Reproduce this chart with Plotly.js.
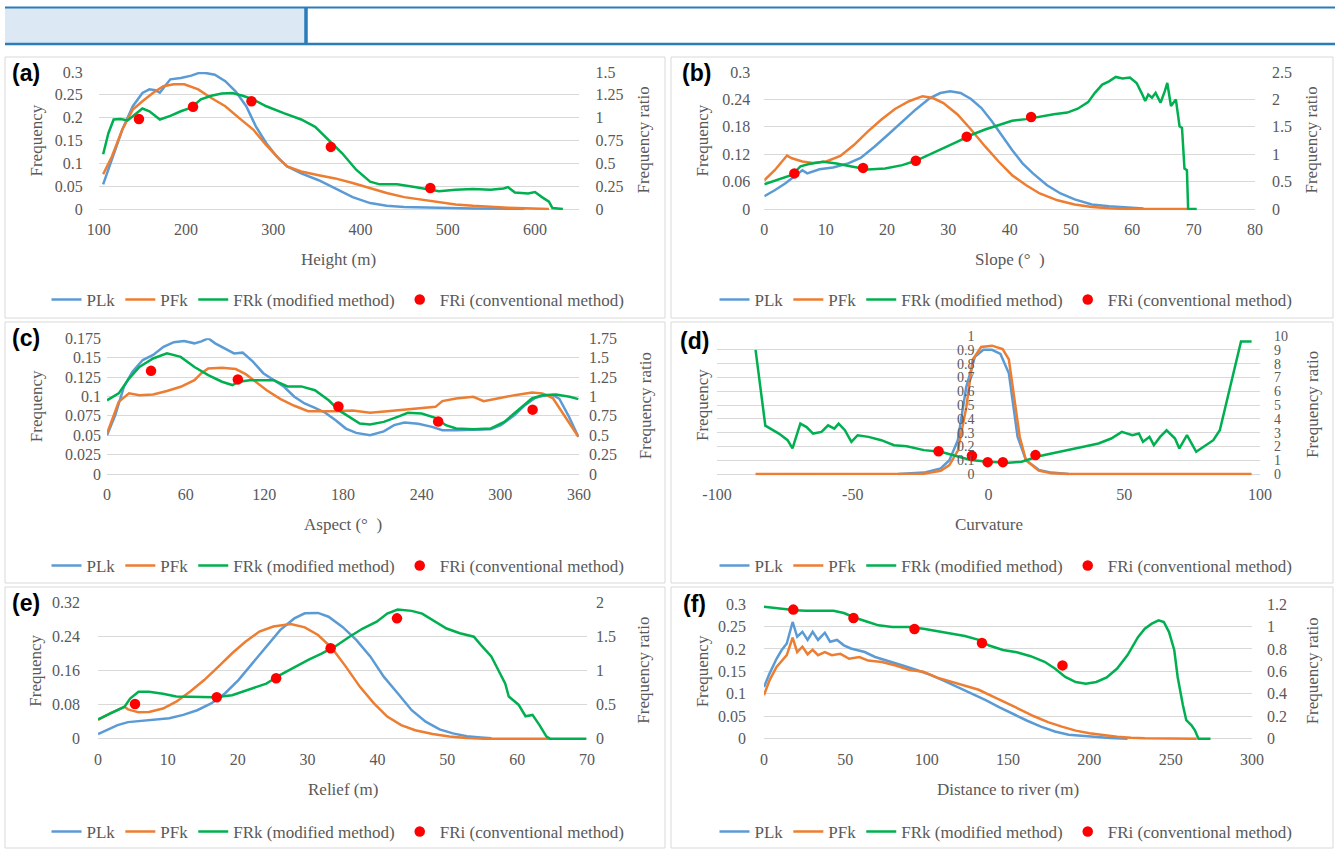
<!DOCTYPE html>
<html><head><meta charset="utf-8">
<script src="https://cdn.plot.ly/plotly-3.0.1.min.js"></script>
<style>html,body{margin:0;padding:0;background:#fff;}#chart{width:1335px;height:850px;}</style>
</head><body><div id="chart"></div>
<script>
// ---------------- DATA ----------------
const seriesNames = ['PLk','PFk','FRk (modified method)','FRi (conventional method)'];

// (a) Height
const aPLkX = [105,115,127,139,150,158,165,170,182,194,206,215,222,233,245,257,269,280,292,304,316,332,352,371,391,411,430,450,490,529,569,588];
const aPLkY = [0.054,0.107,0.174,0.225,0.254,0.262,0.260,0.255,0.284,0.287,0.292,0.298,0.298,0.294,0.280,0.257,0.225,0.181,0.144,0.115,0.093,0.078,0.063,0.045,0.026,0.013,0.007,0.0045,0.002,0.001,0.0005,0];
const aPFkX = [105,115,127,139,150,162,174,186,198,214,229,245,261,277,292,308,316,332,352,371,391,411,430,450,470,490,509,529,549,569,588,616];
const aPFkY = [0.076,0.115,0.174,0.218,0.236,0.254,0.269,0.273,0.273,0.262,0.243,0.225,0.199,0.174,0.140,0.107,0.093,0.082,0.074,0.067,0.057,0.045,0.035,0.026,0.021,0.015,0.010,0.007,0.0045,0.003,0.0015,0];
const aFRkX = [105,111,117,125,133,141,150,158,170,182,194,206,217,229,241,253,265,277,292,312,332,348,363,379,395,411,422,442,462,482,490,509,529,549,564,569,577,592,600,608,616,620,632];
const aFRkY = [0.60,0.83,0.98,0.985,0.97,1.03,1.10,1.07,0.98,1.02,1.07,1.11,1.20,1.24,1.265,1.27,1.24,1.20,1.125,1.05,0.98,0.90,0.76,0.61,0.43,0.30,0.27,0.27,0.24,0.21,0.195,0.21,0.22,0.21,0.225,0.24,0.18,0.17,0.185,0.13,0.08,0.01,0];
const aFRiX = [146,208,275,366,480];
const aFRiY = [0.985,1.12,1.18,0.68,0.23];

// (b) Slope
const bPLkX = [0,1.7,3.4,5.1,6.2,7.0,9.0,11.2,13.5,15.7,18.0,20.2,22.5,24.7,27.0,28.7,30.3,32.0,33.7,35.4,37.1,38.8,40.4,42.1,43.8,46.1,48.3,50.6,53.4,56.2,59.0,61.8];
const bPLkY = [0.028,0.041,0.056,0.074,0.085,0.078,0.087,0.091,0.099,0.112,0.137,0.163,0.192,0.218,0.243,0.254,0.258,0.254,0.241,0.221,0.192,0.159,0.129,0.100,0.078,0.052,0.034,0.021,0.010,0.006,0.003,0.001];
const bPFkX = [0,1.7,3.7,4.5,6.2,7.9,10.1,12.4,14.6,16.9,19.1,21.3,23.6,25.8,27.5,29.2,31.5,33.7,36.0,38.2,40.4,42.7,44.9,47.8,50.6,53.4,56.2,59,69];
const bPFkY = [0.063,0.085,0.117,0.111,0.104,0.101,0.104,0.116,0.140,0.170,0.196,0.219,0.236,0.247,0.243,0.232,0.207,0.174,0.137,0.104,0.074,0.052,0.034,0.019,0.010,0.0045,0.0015,0,0];
const bFRkX = [0,2.2,4.5,5.9,7.3,9.6,11.8,14.0,16.9,19.7,22.5,24.7,27.0,29.2,31.5,33.7,36.0,38.2,40.4,42.7,44.9,47.2,49.4,51.1,52.8,53.9,55.1,56.2,57.3,58.4,59.6,60.7,61.5,62.1,62.6,63.2,63.8,64.6,65.3,65.7,66.3,67.1,67.7,68.1,68.5,68.9,69.1,70.5];
const bFRkY = [0.45,0.53,0.62,0.78,0.82,0.86,0.83,0.78,0.72,0.74,0.80,0.88,0.99,1.11,1.23,1.35,1.45,1.53,1.61,1.64,1.69,1.73,1.76,1.83,1.95,2.12,2.27,2.33,2.41,2.38,2.40,2.30,2.12,1.97,2.09,2.03,2.12,1.94,2.15,2.30,1.88,2.00,1.51,1.48,0.74,0.71,0,0];
const bFRiX = [4.9,16.1,24.7,33.0,43.5];
const bFRiY = [0.65,0.75,0.88,1.32,1.68];

// (c) Aspect
const cPLkX = [0,6.3,12.9,19.4,27.3,35.2,43.1,51.0,58.8,66.7,72.0,77.2,82.5,90.3,96.9,103.5,111.3,119.2,127.1,135.0,142.9,150.7,158.6,166.5,174.4,182.2,190.1,200.6,211.1,219.0,226.9,237.4,247.9,255.8,266.3,279.4,292.5,300.4,310.9,318.8,326.7,333,340,345,352,359.5];
const cPLkY = [0.050,0.076,0.1125,0.132,0.147,0.1535,0.164,0.170,0.1715,0.1685,0.171,0.175,0.1685,0.162,0.1555,0.1565,0.145,0.130,0.121,0.1125,0.0996,0.091,0.0853,0.079,0.0694,0.0586,0.053,0.050,0.055,0.063,0.0664,0.0647,0.0608,0.0565,0.0565,0.0573,0.0578,0.063,0.076,0.0888,0.0983,0.101,0.102,0.097,0.075,0.048];
const cPFkX = [0,8.9,16.8,24.7,35.2,45.7,56.2,66.7,72.0,77.2,87.7,98.2,106.1,114.0,121.8,132.4,142.9,153.4,163.9,174.4,187.5,200.6,213.8,226.9,242.6,250.5,255.8,266.3,279.4,287.3,297.8,310.9,324.1,332,340,350,359.5];
const cPFkY = [0.052,0.093,0.104,0.1017,0.1026,0.107,0.1125,0.121,0.13,0.136,0.137,0.1353,0.1284,0.118,0.108,0.0966,0.088,0.081,0.081,0.081,0.082,0.079,0.081,0.083,0.0853,0.0866,0.094,0.0974,0.0996,0.094,0.0974,0.1017,0.105,0.104,0.098,0.073,0.048];
const cFRkX = [0,8.9,16.8,24.7,35.2,45.7,56.2,66.7,77.2,87.7,95.6,100.8,108.7,116.6,127.1,137.6,148.1,158.6,169.1,177.0,184.9,192.8,200.6,211.1,221.6,229.5,240.0,250.5,258.4,266.3,279.4,292.5,303.0,313.6,324.1,332,342.4,352.9,359.5];
const cFRkY = [0.95,1.04,1.23,1.38,1.49,1.556,1.51,1.38,1.276,1.19,1.147,1.19,1.21,1.21,1.21,1.13,1.13,1.08,0.95,0.82,0.737,0.65,0.638,0.672,0.737,0.789,0.78,0.724,0.629,0.586,0.578,0.586,0.672,0.823,0.974,1.017,1.026,0.996,0.966];
const cFRiX = [33.6,99.8,176.5,252.6,324.6];
const cFRiY = [1.33,1.22,0.87,0.677,0.83];

// (d) Curvature
const dPLkX = [-33.3,-23.8,-17.6,-14.4,-11.3,-8.2,-5.0,-1.9,1.3,4.4,7.5,9.1,10.7,13.8,18.5,23.2,29.5];
const dPLkY = [0,0.01,0.04,0.10,0.245,0.63,0.85,0.90,0.90,0.87,0.73,0.51,0.27,0.10,0.03,0.01,0];
const dPFkX = [-85.8,-23.8,-17.6,-14.4,-11.3,-8.2,-5.8,-2.7,1.3,5.2,7.5,9.9,11.5,13.8,18.5,23.2,29.5,96.9];
const dPFkY = [0,0.002,0.024,0.065,0.17,0.48,0.83,0.92,0.93,0.905,0.83,0.51,0.27,0.10,0.024,0.005,0,0];
const dFRkX = [-85.8,-82.2,-77.2,-74.0,-72.2,-69.3,-67.0,-64.6,-61.5,-59.1,-56.8,-55.2,-52.9,-50.5,-48.2,-44.2,-39.5,-34.8,-30.1,-23.8,-17.6,-11.3,-6.6,0,7.5,12.2,18.5,23.2,29.5,35.8,40.5,45.2,49.1,50.7,53.0,55.4,56.9,59.3,60.9,63.2,65.6,68.7,70.3,73.1,76.5,82.8,85.2,93.0,96.9];
const dFRkY = [9.0,3.5,2.93,2.45,1.85,3.65,3.4,2.93,3.05,3.53,3.29,3.65,3.17,2.33,2.81,2.69,2.45,2.09,2.01,1.73,1.61,1.29,1.01,0.89,0.82,0.89,1.29,1.49,1.73,2.01,2.21,2.57,3.05,2.93,2.81,2.93,2.33,2.69,2.09,2.69,3.17,2.57,1.85,2.81,1.61,2.45,3.17,9.6,9.6];
const dFRiX = [-18.4,-6.1,-0.3,5.3,17.3];
const dFRiY = [1.65,1.32,0.86,0.86,1.37];
const dTickVals = [-100,-50,0,50,100];
const dTickText = ['-100','-50','0','50','100'];

// (e) Relief
const ePLkX = [0,1.3,2.8,4.3,6.3,8.3,10.2,12.2,14.2,16.2,18.2,20.1,22.1,24.1,26.1,28.1,29.6,31.5,33.0,35.0,37.0,39.0,40.9,42.9,44.9,46.9,48.9,50.8,52.8,54.8,56.3];
const ePLkY = [0.011,0.020,0.032,0.039,0.042,0.044,0.048,0.056,0.067,0.083,0.107,0.138,0.177,0.216,0.256,0.283,0.295,0.296,0.287,0.263,0.232,0.193,0.146,0.107,0.067,0.040,0.022,0.0125,0.006,0.003,0.001];
const ePFkX = [0,1.8,3.8,4.3,5.8,7.3,9.3,11.2,13.2,15.2,17.2,19.2,21.1,23.1,25.1,27.6,29.6,31.5,33.5,35.5,37.5,39.5,41.4,43.4,45.4,47.9,50.3,52.8,55.3,64.7];
const ePFkY = [0.044,0.060,0.075,0.069,0.062,0.063,0.071,0.087,0.111,0.138,0.169,0.201,0.228,0.252,0.264,0.270,0.262,0.244,0.213,0.169,0.122,0.083,0.052,0.032,0.020,0.011,0.005,0.0015,0,0];
const eFRkX = [0,1.8,3.8,4.6,5.8,7.3,9.3,11.2,14.2,16.7,19.2,21.6,24.1,26.1,28.1,30.1,32.0,34.0,36.0,37.9,39.9,41.4,42.9,44.9,46.4,47.9,49.9,51.8,53.8,54.8,56.3,57.3,58.3,58.8,60.2,61.2,62.2,63.2,64.2,64.7,69.9];
const eFRkY = [0.284,0.37,0.47,0.59,0.69,0.69,0.66,0.62,0.61,0.61,0.64,0.72,0.81,0.94,1.05,1.16,1.25,1.36,1.50,1.62,1.72,1.84,1.90,1.88,1.84,1.75,1.62,1.55,1.50,1.38,1.21,1.01,0.81,0.62,0.50,0.33,0.35,0.20,0.03,0,0];
const eFRiX = [5.3,17.0,25.5,33.3,42.8];
const eFRiY = [0.51,0.61,0.89,1.33,1.77];

// (f) Distance to river
const fPLkX = [0,3.4,7.7,10.8,14.0,17.6,20.4,23.6,26.8,29.9,33.2,37.4,40.6,44.9,49.1,53.4,57.6,61.9,68.3,76.8,85.3,93.8,102.3,110.8,119.3,127.8,136.3,144.8,153.3,161.8,170.3,178.8,187.3,195.8,204.3,212.8,223.5];
const fPLkY = [0.115,0.145,0.178,0.197,0.212,0.26,0.227,0.238,0.220,0.238,0.220,0.236,0.216,0.220,0.208,0.201,0.197,0.193,0.182,0.173,0.163,0.153,0.142,0.129,0.115,0.100,0.086,0.070,0.055,0.040,0.027,0.016,0.009,0.006,0.003,0.0015,0];
const fPFkX = [0,3.4,7.7,10.8,14.0,17.6,20.4,23.6,26.8,29.9,33.2,37.4,41.7,47.0,52.3,58.7,64.0,72.5,81.0,89.5,98.0,106.5,115.0,123.5,132.0,140.5,149.0,157.5,166.0,174.6,183.1,191.6,200.1,208.6,217.1,225.6,234.1,266];
const fPFkY = [0.097,0.130,0.160,0.174,0.186,0.225,0.193,0.205,0.188,0.198,0.186,0.193,0.186,0.189,0.178,0.182,0.174,0.171,0.163,0.153,0.149,0.136,0.127,0.119,0.109,0.094,0.080,0.065,0.050,0.037,0.027,0.018,0.012,0.0075,0.0045,0.002,0.001,0];
const fFRkX = [0,6.6,13.0,19.4,25.7,34.2,42.7,49.1,55.5,64.0,70.4,78.9,89.5,98.0,106.5,115.0,123.5,132.0,138.4,146.9,155.4,163.9,172.5,178.8,185.2,191.6,197.9,204.3,210.7,217.1,223.5,229.9,234.1,238.4,242.6,245.8,249.0,252.2,254.3,257.5,259.6,262.8,264.9,267.1,274.5];
const fFRkY = [1.175,1.165,1.15,1.145,1.14,1.14,1.14,1.12,1.08,1.04,1.01,0.995,0.995,0.98,0.96,0.94,0.915,0.88,0.83,0.79,0.77,0.735,0.685,0.625,0.55,0.505,0.49,0.505,0.545,0.625,0.745,0.905,0.98,1.025,1.055,1.04,0.95,0.79,0.55,0.30,0.165,0.12,0.075,0,0];
const fFRiX = [18,55,92.5,134,183.5];
const fFRiY = [1.15,1.075,0.978,0.853,0.653];

// ---------------- LAYOUT HELPERS ----------------
const W = 1335, H = 850;
const px = x => x / W, py = y => 1 - y / H;
const SERIF = "'Liberation Serif', 'Times New Roman', 'DejaVu Serif', serif";
const GRAY = '#595959';
const GRID = '#d9d9d9';
const COL = ['#5b9bd5', '#ed7d31', '#00b050', '#ff0000'];
const PAD = 0.01;

const panels = [
  {lab:'(a)', xt:'Height (m)', box:[5,57,665,318], plot:[98.8,72,578.6,209], xr:[100,650], t0:100, dt:100,
   yl:0.3, dyl:0.05, yr:1.5, dyr:0.25, lso:15, rso:16, labPos:[26,73], ytx:36, rtx:643, xty:259, lgy:300, lgx:338,
   d:[[aPLkX,aPLkY],[aPFkX,aPFkY],[aFRkX,aFRkY],[aFRiX,aFRiY]]},
  {lab:'(b)', xt:'Slope (°\u00a0\u00a0)', box:[671,57,1333,318], plot:[764.3,72,1255,209], xr:[0,80], t0:0, dt:10,
   yl:0.3, dyl:0.06, yr:2.5, dyr:0.5, lso:13, rso:16, labPos:[696,73], ytx:702, rtx:1311, xty:259, lgy:300, lgx:1006,
   d:[[bPLkX,bPLkY],[bPFkX,bPFkY],[bFRkX,bFRkY],[bFRiX,bFRiY]]},
  {lab:'(c)', xt:'Aspect (°\u00a0\u00a0)', box:[5,322,665,583], plot:[107,338.3,579,474], xr:[0,360], t0:0, dt:60,
   yl:0.175, dyl:0.025, yr:1.75, dyr:0.25, lso:5, rso:9, labPos:[26,338], ytx:36, rtx:645, xty:524, lgy:566, lgx:338,
   d:[[cPLkX,cPLkY],[cPFkX,cPFkY],[cFRkX,cFRkY],[cFRiX,cFRiY]]},
  {lab:'(d)', xt:'Curvature', box:[671,322,1333,583], plot:[717,336,1260,474], xr:[-100,100], t0:-100, dt:50,
   yl:1, dyl:0.1, yr:10, dyr:1, lso:14, rso:13, labPos:[694,341], ytx:702, rtx:1312, xty:524, lgy:566, lgx:1006,
   free:true, tv:dTickVals, tt:dTickText, yfs:14,
   d:[[dPLkX,dPLkY],[dPFkX,dPFkY],[dFRkX,dFRkY],[dFRiX,dFRiY]]},
  {lab:'(e)', xt:'Relief (m)', box:[5,587,665,848], plot:[98,602.7,587,738.7], xr:[0,70], t0:0, dt:10,
   yl:0.32, dyl:0.08, yr:2, dyr:0.5, lso:17, rso:8, labPos:[26,603], ytx:36, rtx:644, xty:789, lgy:832, lgx:338,
   d:[[ePLkX,ePLkY],[ePFkX,ePFkY],[eFRkX,eFRkY],[eFRiX,eFRiY]]},
  {lab:'(f)', xt:'Distance to river (m)', box:[671,587,1333,848], plot:[764,604,1252,738.7], xr:[0,300], t0:0, dt:50,
   yl:0.3, dyl:0.05, yr:1.2, dyr:0.2, lso:17, rso:14, labPos:[694,604], ytx:702, rtx:1312, xty:789, lgy:832, lgx:1006,
   d:[[fPLkX,fPLkY],[fPFkX,fPFkY],[fFRkX,fFRkY],[fFRiX,fFRiY]]}
];

const traces = [];
const layout = {
  width: W, height: H, margin: {l:0, r:0, t:0, b:0},
  paper_bgcolor: '#ffffff', plot_bgcolor: 'rgba(0,0,0,0)',
  showlegend: true, hovermode: false,
  font: {family: SERIF, color: GRAY, size: 16},
  shapes: [], annotations: []
};

panels.forEach((p, i) => {
  const n = i + 1;
  const xa = 'x' + (n === 1 ? '' : n);
  const yLn = 2 * n - 1, yRn = 2 * n;
  const yl = 'y' + (yLn === 1 ? '' : yLn), yr = 'y' + yRn;
  const lg = 'legend' + (n === 1 ? '' : n);
  const [x0, yTop, x1, yBot] = p.plot;
  const domBot = yBot + PAD * (yBot - yTop);
  const yFont = {family: SERIF, size: p.yfs || 16, color: GRAY};
  const xFont = {family: SERIF, size: 16, color: GRAY};

  layout['xaxis' + (n === 1 ? '' : n)] = Object.assign({
    domain: [px(x0), px(x1)], anchor: yl, range: p.xr, tick0: p.t0, dtick: p.dt,
    showgrid: false, zeroline: false, showline: false, ticks: '',
    tickfont: xFont, ticklabelstandoff: 8, fixedrange: true
  }, p.tv ? {tickmode: 'array', tickvals: p.tv, ticktext: p.tt} : {});

  const yLeft = {
    domain: [py(domBot), py(yTop)], range: [-PAD * p.yl, p.yl], tick0: 0, dtick: p.dyl,
    showgrid: true, gridcolor: GRID, gridwidth: 1, zeroline: false, showline: false, ticks: '',
    tickfont: yFont, ticklabelstandoff: p.lso, fixedrange: true
  };
  if (p.free) {
    yLeft.anchor = 'free';
    yLeft.position = px((x0 + x1) / 2);
  } else {
    yLeft.anchor = xa;
  }
  layout['yaxis' + (yLn === 1 ? '' : yLn)] = yLeft;
  layout['yaxis' + yRn] = {
    overlaying: yl, side: 'right', anchor: xa, range: [-PAD * p.yr, p.yr], tick0: 0, dtick: p.dyr,
    showgrid: false, zeroline: false, showline: false, ticks: '',
    tickfont: yFont, ticklabelstandoff: p.rso, fixedrange: true
  };

  layout[lg] = {
    orientation: 'h', x: px(p.lgx), y: py(p.lgy), xanchor: 'center', yanchor: 'middle',
    font: {family: SERIF, size: 17, color: GRAY}, bgcolor: 'rgba(0,0,0,0)', itemwidth: 30,
    traceorder: 'normal'
  };

  p.d.forEach((s, k) => {
    const tr = {
      x: s[0], y: s[1], name: seriesNames[k], xaxis: xa, yaxis: k < 2 ? yl : yr,
      legend: lg, showlegend: true, type: 'scatter'
    };
    if (k < 3) {
      tr.mode = 'lines';
      tr.line = {color: COL[k], width: 2.5};
    } else {
      tr.mode = 'markers';
      tr.marker = {color: COL[3], size: 10.5};
    }
    traces.push(tr);
  });

  // panel frame
  layout.shapes.push({type:'rect', xref:'paper', yref:'paper', x0:px(p.box[0]), x1:px(p.box[2]), y0:py(p.box[3]), y1:py(p.box[1]),
    line:{color:'#d9d9d9', width:1}, fillcolor:'rgba(0,0,0,0)', layer:'below'});

  const yc = (yTop + yBot) / 2;
  layout.annotations.push(
    {text:'<b>' + p.lab + '</b>', xref:'paper', yref:'paper', x:px(p.labPos[0]), y:py(p.labPos[1]), showarrow:false,
     xanchor:'center', yanchor:'middle', font:{family:"'Liberation Sans', Arial, sans-serif", size:23, color:'#000000'}},
    {text:'Frequency', xref:'paper', yref:'paper', x:px(p.ytx), y:py(yc), showarrow:false, textangle:-90,
     xanchor:'center', yanchor:'middle', font:{family:SERIF, size:17, color:GRAY}},
    {text:'Frequency ratio', xref:'paper', yref:'paper', x:px(p.rtx), y:py(yc), showarrow:false, textangle:-90,
     xanchor:'center', yanchor:'middle', font:{family:SERIF, size:17, color:GRAY}},
    {text:p.xt, xref:'paper', yref:'paper', x:px((x0 + x1) / 2), y:py(p.xty), showarrow:false,
     xanchor:'center', yanchor:'middle', font:{family:SERIF, size:17, color:GRAY}}
  );
});

// header bar
const HB = '#2a7db8';
layout.shapes.push(
  {type:'rect', xref:'paper', yref:'paper', x0:px(5), x1:px(305), y0:py(44), y1:py(8), fillcolor:'#dce8f4', line:{width:0}, layer:'below'},
  {type:'line', xref:'paper', yref:'paper', x0:px(5), x1:px(1335), y0:py(7.5), y1:py(7.5), line:{color:HB, width:2}},
  {type:'line', xref:'paper', yref:'paper', x0:px(5), x1:px(1335), y0:py(44), y1:py(44), line:{color:HB, width:2.5}},
  {type:'line', xref:'paper', yref:'paper', x0:px(306), x1:px(306), y0:py(44), y1:py(7.5), line:{color:HB, width:3.5}}
);

Plotly.newPlot('chart', traces, layout, {displayModeBar: false, staticPlot: true});
</script>
</body></html>
